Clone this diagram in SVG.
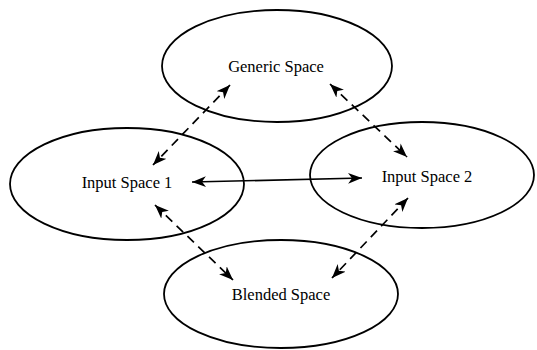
<svg xmlns="http://www.w3.org/2000/svg" width="537" height="350" viewBox="0 0 537 350">
  <style>
    .space { fill: none; stroke: #000; stroke-width: 1.8; }
    .label { font-family: "Liberation Serif", "Times New Roman", serif; font-size: 16.5px; fill: #000; text-anchor: middle; }
    .link { stroke: #000; stroke-width: 1.7; fill: none; marker-start: url(#head); marker-end: url(#head); }
    .dashed { stroke-dasharray: 9 6; }
  </style>
  <defs>
    <marker id="head" markerUnits="userSpaceOnUse" markerWidth="16" markerHeight="12" refX="14" refY="5.5" orient="auto-start-reverse">
      <path d="M0,0 L14,5.5 L0,11 L4,5.5 Z" fill="#000"/>
    </marker>
  </defs>
  <rect width="537" height="350" fill="#fff"/>

  <g id="generic-space">
    <ellipse class="space" cx="277" cy="66" rx="115" ry="56"/>
    <text class="label" x="276" y="72">Generic Space</text>
  </g>
  <g id="input-space-1">
    <ellipse class="space" cx="127" cy="184" rx="117" ry="56"/>
    <text class="label" x="127" y="188">Input Space 1</text>
  </g>
  <g id="input-space-2">
    <ellipse class="space" cx="422" cy="175" rx="112" ry="53"/>
    <text class="label" x="427" y="182">Input Space 2</text>
  </g>
  <g id="blended-space">
    <ellipse class="space" cx="281" cy="294" rx="117" ry="54"/>
    <text class="label" x="281" y="300">Blended Space</text>
  </g>

  <g id="connectors">
    <line class="link" x1="192" y1="182" x2="362" y2="178"/>
    <line class="link dashed" x1="230" y1="85" x2="153" y2="165"/>
    <line class="link dashed" x1="330" y1="84" x2="407" y2="157"/>
    <line class="link dashed" x1="155" y1="205" x2="233" y2="280"/>
    <line class="link dashed" x1="408" y1="198" x2="332" y2="278"/>
  </g>
</svg>
